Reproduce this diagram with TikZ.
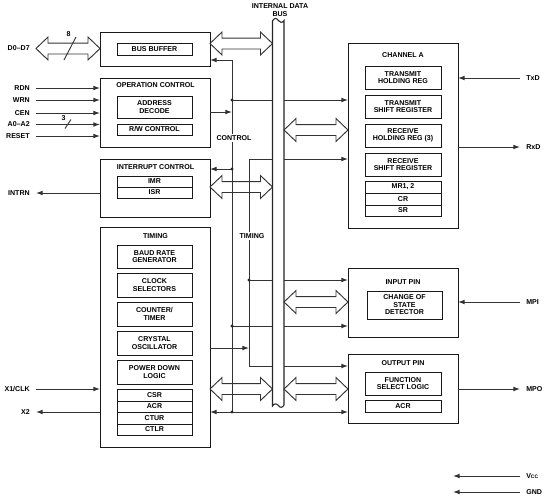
\documentclass[tikz,border=0pt]{standalone}
\usepackage{fontspec}
\setmainfont{Liberation Sans}
\usetikzlibrary{fit,calc,arrows.meta}
\newcommand\lbf{\fontsize{5.3}{5.6}\selectfont\bfseries}
\newcommand\harrow[3]{%
  \draw[harr] let \p1=#1, \p2=#2, \p3=(0,#3) in
   (\x1,\y3) -- (\x1+9pt,\y3+8.6pt) -- (\x1+9pt,\y3+4.1pt) -- (\x2-9pt,\y3+4.1pt)
   -- (\x2-9pt,\y3+8.6pt) -- (\x2,\y3) -- (\x2-9pt,\y3-8.6pt) -- (\x2-9pt,\y3-4.1pt)
   -- (\x1+9pt,\y3-4.1pt) -- (\x1+9pt,\y3-8.6pt) -- cycle;}
\newcommand\ibx[6]{\node[ibox, minimum width={(#4-#2)*0.75pt}, minimum height={(#5-#3)*0.75pt}] (#1) at ({(#2+#4)/2},{(#3+#5)/2}) {#6};}
\tikzset{
 obox/.style={draw=black!90, line width=0.75pt, inner sep=0pt, outer sep=0pt},
 ibox/.style={draw=black!90, line width=0.7pt, inner sep=0pt, outer sep=0pt, align=center, font=\lbf},
 ttl/.style={font=\lbf, inner sep=0pt},
 lbl/.style={font=\lbf, inner sep=0pt},
 ln/.style={draw=black!80, line width=0.7pt},
 arr/.style={ln, -{Latex[length=5pt,width=3.6pt]}},
 harr/.style={draw=black!80, line width=0.7pt},
 junc/.style={fill=black!85},
 lbltag/.style={font=\lbf, fill=white, inner sep=0.8pt},
 busst/.style={fill=white, draw=black!85, line width=0.8pt},
}
\begin{document}
\begin{tikzpicture}[x=0.75pt,y=-0.75pt]
\useasboundingbox (0,0) rectangle (547,500);
% ---------- left blocks
\node[obox, fit={(100,32)(210,66)}] (bbuf) {};
\ibx{bbi}{117}{43}{192}{55}{BUS BUFFER}
\node[obox, fit={(100,78)(210,147)}] (opc) {};
\node[ttl] (opct) at (155.5,85) {OPERATION CONTROL};
\ibx{addr}{117}{96}{192}{118}{ADDRESS\\DECODE}
\ibx{rw}{117}{124}{192}{135}{R/W CONTROL}
\node[obox, fit={(100,159)(210,217)}] (intc) {};
\node[ttl] (intct) at (155.5,167) {INTERRUPT CONTROL};
\ibx{imr}{117}{176}{192}{187}{IMR}
\ibx{isr}{117}{187}{192}{198}{ISR}
\node[obox, fit={(100,227)(210,447)}] (tim) {};
\node[ttl] (timt) at (155.5,236) {TIMING};
\ibx{baud}{117}{245}{192}{268}{BAUD RATE\\GENERATOR}
\ibx{clks}{117}{273}{192}{297}{CLOCK\\SELECTORS}
\ibx{ctr}{117}{302}{192}{326}{COUNTER/\\TIMER}
\ibx{xtal}{117}{331}{192}{355}{CRYSTAL\\OSCILLATOR}
\ibx{pwr}{117}{360}{192}{384}{POWER DOWN\\LOGIC}
\ibx{csr}{117}{389}{192}{401}{CSR}
\ibx{acra}{117}{401}{192}{412}{ACR}
\ibx{ctur}{117}{412}{192}{424}{CTUR}
\ibx{ctlr}{117}{424}{192}{435}{CTLR}
% ---------- right blocks
\node[obox, fit={(348,43)(458,228)}] (chA) {};
\node[ttl] (chAt) at (403,55) {CHANNEL A};
\ibx{thr}{365}{66}{441}{89}{TRANSMIT\\HOLDING REG}
\ibx{tsr}{365}{95}{441}{118}{TRANSMIT\\SHIFT REGISTER}
\ibx{rhr}{365}{124}{441}{147}{RECEIVE\\HOLDING REG (3)}
\ibx{rsr}{365}{153}{441}{176}{RECEIVE\\SHIFT REGISTER}
\ibx{mr}{365}{181}{441}{193}{MR1, 2}
\ibx{cr}{365}{193}{441}{205}{CR}
\ibx{sr}{365}{205}{441}{216}{SR}
\node[obox, fit={(348,268)(458,337)}] (inp) {};
\node[ttl] (inpt) at (403,282) {INPUT PIN};
\ibx{cos}{367}{291}{442}{319}{CHANGE OF\\STATE\\DETECTOR}
\node[obox, fit={(348,354)(458,423)}] (outp) {};
\node[ttl] (outpt) at (403,363) {OUTPUT PIN};
\ibx{fsl}{365}{372}{441}{395}{FUNCTION\\SELECT LOGIC}
\ibx{acrb}{365}{400}{441}{412}{ACR}
% ---------- external pin labels
\node[lbl, anchor=east] (d07) at (30,48.5) {D0--D7};
\node[lbl, anchor=east] (rdn) at (30,88) {RDN};
\node[lbl, anchor=east] (wrn) at (30,100) {WRN};
\node[lbl, anchor=east] (cen) at (30,113) {CEN};
\node[lbl, anchor=east] (aa) at (30,124.5) {A0--A2};
\node[lbl, anchor=east] (rst) at (30,136) {RESET};
\node[lbl, anchor=east] (intrn) at (30,193) {INTRN};
\node[lbl, anchor=east] (x1) at (30,389) {X1/CLK};
\node[lbl, anchor=east] (x2) at (30,412) {X2};
\node[lbl, anchor=west] (txd) at (526,78) {TxD};
\node[lbl, anchor=west] (rxd) at (526,147) {RxD};
\node[lbl, anchor=west] (mpi) at (526,302) {MPI};
\node[lbl, anchor=west] (mpo) at (526,389) {MPO};
\node[lbl, anchor=west] (vcc) at (526,476) {V\raisebox{-0.6pt}{\fontsize{3.8}{4}\selectfont CC}};
\node[lbl, anchor=west] (gnd) at (526,492) {GND};
\coordinate (vccE) at (453,476);
\coordinate (gndE) at (453,492);
% ---------- left inputs
\draw[arr] ([xshift=4.5pt]rdn.east) -- (rdn -| opc.west);
\draw[arr] ([xshift=4.5pt]wrn.east) -- (wrn -| opc.west);
\draw[arr] ([xshift=4.5pt]cen.east) -- (cen -| opc.west);
\draw[arr] ([xshift=4.5pt]aa.east) -- (aa -| opc.west);
\draw[arr] ([xshift=4.5pt]rst.east) -- (rst -| opc.west);
\draw[ln] (65,128.5) -- (71,119.5);
\node[lbl] (three) at (63.5,118) {3};
\draw[arr] (intrn -| intc.west) -- ([xshift=4.5pt]intrn.east);
\draw[arr] ([xshift=4.5pt]x1.east) -- (x1 -| tim.west);
\draw[arr] (x2 -| tim.west) -- ([xshift=4.5pt]x2.east);
% ---------- right pins
\draw[arr] ([xshift=-4.5pt]txd.west) -- (txd -| chA.east);
\draw[arr] (rxd -| chA.east) -- ([xshift=-4.5pt]rxd.west);
\draw[arr] ([xshift=-4.5pt]mpi.west) -- (mpi -| inp.east);
\draw[arr] (mpo -| outp.east) -- ([xshift=-4.5pt]mpo.west);
\draw[arr] ([xshift=-4.5pt]vcc.west) -- (vccE);
\draw[arr] ([xshift=-4.5pt]gnd.west) -- (gndE);
% ---------- control and timing lines
\coordinate (cT) at (232,60);
\coordinate (cA) at (232,100);
\coordinate (cOp) at (232,112);
\coordinate (cI) at (232,169);
\coordinate (cIn) at (232,326);
\coordinate (cB) at (232,412);
\coordinate (tT) at (249,159);
\coordinate (tIn) at (249,280);
\coordinate (tX) at (249,348);
\coordinate (tB) at (249,366);
\draw[ln] (cT) -- (cB);
\draw[arr] (cT) -- (cT -| bbuf.east);
\draw[arr] (opc.east |- cOp) -- (cOp);
\draw[arr] (cA) -- (cA -| chA.west);
\draw[arr] (cI) -- (cI -| intc.east);
\draw[arr] (cIn) -- (cIn -| inp.west);
\draw[arr] (cB) -- (cB -| tim.east);
\draw[arr] (cB) -- (cB -| outp.west);
\draw[arr] (tB) -- (tT) -- (tT -| chA.west);
\draw[arr] (tIn) -- (tIn -| inp.west);
\draw[arr] (tim.east |- tX) -- (tX);
\draw[arr] (tB) -- (tB -| outp.west);
\foreach \p in {cA,cI,cIn,cB,tIn} \fill[junc] (\p) circle (1.3pt);
\node[lbltag] (ctl) at (234,138) {CONTROL};
\node[lbltag] (tmg) at (252,236) {TIMING};
% ---------- internal data bus
\node[inner sep=0pt, outer sep=0pt, fit={(272.5,20)(284,406)}] (bus) {};
\draw[busst] (272.5,21) .. controls (274,17.5) and (277,18) .. (278.3,20.5)
  .. controls (279.6,23) and (282.5,23) .. (284,20.5) -- (284,405)
  .. controls (282.5,408) and (280,408) .. (278.3,405.5)
  .. controls (276.6,403) and (274,403.5) .. (272.5,406) -- cycle;
\node[lbl, align=center] (bust) at (280,10) {INTERNAL DATA\\BUS};
% ---------- hollow bus arrows
\harrow{([xshift=4.5pt]d07.east)}{(bbuf.west)}{48.5}
\draw[ln] (64,60) -- (76,37);
\node[lbl] (eight) at (68.5,34) {8};
\harrow{(bbuf.east)}{(bus.west)}{43.5}
\harrow{(intc.east)}{(bus.west)}{187}
\harrow{(tim.east)}{(bus.west)}{389}
\harrow{(bus.east)}{(chA.west)}{130}
\harrow{(bus.east)}{(inp.west)}{302}
\harrow{(bus.east)}{(outp.west)}{389}
\end{tikzpicture}
\end{document}
